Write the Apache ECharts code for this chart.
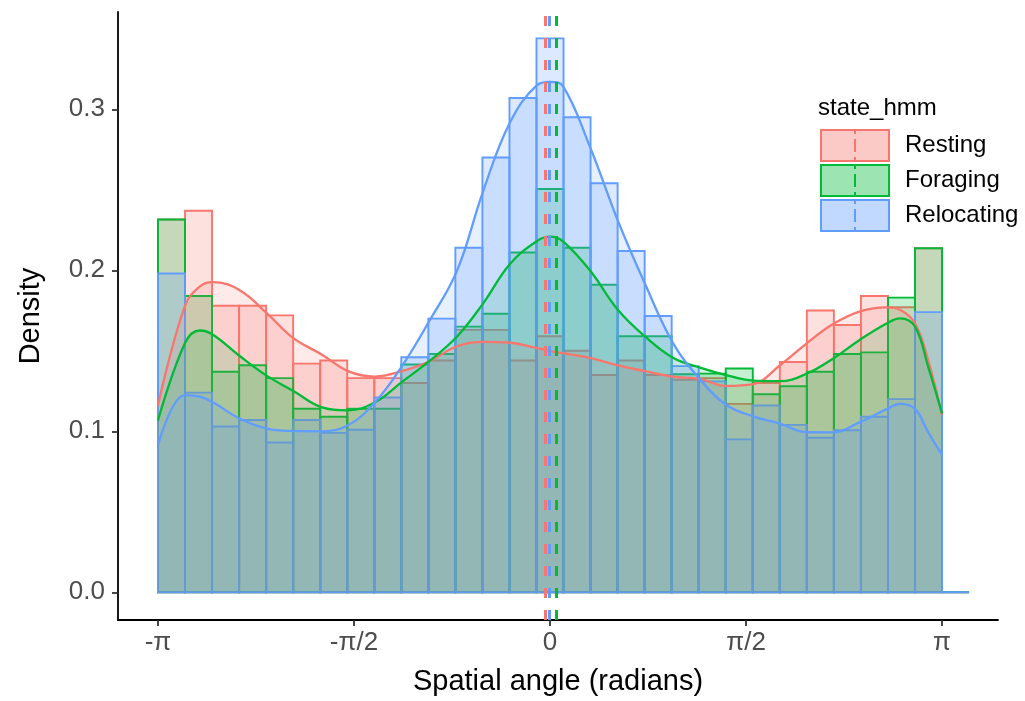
<!DOCTYPE html>
<html>
<head>
<meta charset="utf-8">
<script src="https://cdn.jsdelivr.net/npm/echarts@6/dist/echarts.min.js"></script>
<style>
html,body{margin:0;padding:0;background:#fff;}
#chart{width:1025px;height:701px;}
</style>
</head>
<body>
<div id="chart"></div>
<script>
// ---- data ----
const states = ['Resting', 'Foraging', 'Relocating'];
const stateColors = ['#F8766D', '#00BA38', '#619CFF'];
const nBins = 30;                 // 29 bins over [-pi, pi] plus one empty bin
const binStart = -Math.PI;
const binWidth = 2 * Math.PI / 29;

const restingHist = [0.2315, 0.237, 0.178, 0.178, 0.172, 0.142, 0.144, 0.133, 0.133, 0.130,
  0.144, 0.163, 0.163, 0.144, 0.159, 0.150, 0.135, 0.144, 0.135, 0.132,
  0.133, 0.117, 0.130, 0.143, 0.175, 0.166, 0.184, 0.177, 0.2137, 0];
const foragingHist = [0.2315, 0.184, 0.137, 0.141, 0.133, 0.114, 0.109, 0.114, 0.114, 0.1415,
  0.148, 0.165, 0.173, 0.211, 0.2505, 0.214, 0.191, 0.159, 0.159, 0.1354,
  0.1358, 0.139, 0.123, 0.128, 0.137, 0.148, 0.149, 0.183, 0.2137, 0];
const relocatingHist = [0.198, 0.124, 0.103, 0.107, 0.093, 0.107, 0.099, 0.101, 0.121, 0.146,
  0.170, 0.214, 0.270, 0.307, 0.344, 0.295, 0.254, 0.212, 0.1716, 0.1405,
  0.131, 0.095, 0.116, 0.104, 0.096, 0.1006, 0.109, 0.120, 0.174, 0];

const densityX = [-3.1416, -2.925, -2.805, -2.701, -2.484, -2.268, -2.060, -1.827, -1.619, -1.402,
  -1.186, -0.978, -0.745, -0.537, -0.321, -0.104, 0, 0.104, 0.321, 0.545,
  0.761, 0.986, 1.202, 1.410, 1.627, 1.843, 2.060, 2.268, 2.484, 2.701,
  2.805, 2.925, 3.029, 3.1416];
const restingDensity = [0.116, 0.178, 0.190, 0.1926, 0.1875, 0.1732, 0.158, 0.1476, 0.1374, 0.134,
  0.1374, 0.143, 0.1528, 0.1555, 0.155, 0.1517, 0.150, 0.1485, 0.1456, 0.1409,
  0.1374, 0.134, 0.1325, 0.1282, 0.1293, 0.1410, 0.1548, 0.1666, 0.1745, 0.1770,
  0.1755, 0.1671, 0.1446, 0.110];
const foragingDensity = [0.1067, 0.1548, 0.1626, 0.160, 0.1466, 0.1344, 0.1252, 0.1149, 0.113, 0.118,
  0.1307, 0.1429, 0.1589, 0.1793, 0.2039, 0.2182, 0.2209, 0.2180, 0.1998, 0.1753,
  0.1589, 0.1456, 0.1395, 0.1349, 0.1315, 0.1311, 0.1359, 0.1451, 0.1569, 0.1671,
  0.1701, 0.165, 0.1405, 0.111];
const relocatingDensity = [0.0914, 0.1225, 0.1215, 0.118, 0.1078, 0.1017, 0.1002, 0.100, 0.1037, 0.118,
  0.1405, 0.1671, 0.1998, 0.2489, 0.2918, 0.3150, 0.317, 0.3143, 0.2765, 0.2305,
  0.1916, 0.1548, 0.1323, 0.1165, 0.1093, 0.1047, 0.0994, 0.0993, 0.1057, 0.1139,
  0.117, 0.1139, 0.0996, 0.0853];

const stateMeans = [-0.040, 0.046, -0.008];

const xTickValues = [-Math.PI, -Math.PI / 2, 0, Math.PI / 2, Math.PI];
const xTickLabels = ['-π', '-π/2', '0', 'π/2', 'π'];
const yTickValues = [0, 0.1, 0.2, 0.3];
const yTickLabels = ['0.0', '0.1', '0.2', '0.3'];

// ---- build ----
const hists = [restingHist, foragingHist, relocatingHist];
const dens = [restingDensity, foragingDensity, relocatingDensity];
const FONT = '"Liberation Sans", Arial, sans-serif';

function rgba(hex, a) {
  const r = parseInt(hex.slice(1, 3), 16), g = parseInt(hex.slice(3, 5), 16), b = parseInt(hex.slice(5, 7), 16);
  return `rgba(${r},${g},${b},${a})`;
}
const ALPHA = 0.22;

const series = [];
states.forEach((name, s) => {
  const data = hists[s].map((v, i) => [binStart + i * binWidth, binStart + (i + 1) * binWidth, v]);
  series.push({
    type: 'custom', name, z: 2, silent: true,
    itemStyle: { color: rgba(stateColors[s], 0.4) },
    encode: { x: [0, 1], y: 2 },
    data,
    renderItem(params, api) {
      const p0 = api.coord([api.value(0), api.value(2)]);
      const p1 = api.coord([api.value(1), 0]);
      return {
        type: 'rect',
        shape: { x: p0[0], y: p0[1], width: p1[0] - p0[0], height: p1[1] - p0[1] },
        style: { fill: rgba(stateColors[s], ALPHA), stroke: stateColors[s], lineWidth: 1.9 }
      };
    }
  });
});
states.forEach((name, s) => {
  series.push({
    type: 'line', name, z: 3, silent: true, smooth: 0.4, showSymbol: false,
    data: densityX.map((x, i) => [x, dens[s][i]]),
    lineStyle: { color: stateColors[s], width: 2.3 },
    itemStyle: { color: stateColors[s] },
    areaStyle: { color: rgba(stateColors[s], ALPHA), origin: 0 },
    markLine: {
      silent: true, symbol: 'none', z: 5, animation: false,
      label: { show: false },
      lineStyle: { color: stateColors[s], type: [10, 12], width: 3 },
      data: [{ xAxis: stateMeans[s] }]
    }
  });
});

const iconPath = 'path://M0 0H68V31H0Z M34 0V4 M34 9V22 M34 27V31';
const chart = echarts.init(document.getElementById('chart'), null, { renderer: 'canvas' });
chart.setOption({
  animation: false,
  backgroundColor: '#ffffff',
  textStyle: { fontFamily: FONT },
  title: {
    text: 'state_hmm', left: 813, top: 91,
    textStyle: { fontFamily: FONT, fontSize: 24, fontWeight: 'normal', color: '#000' }
  },
  legend: {
    orient: 'vertical', left: 815, top: 124,
    itemWidth: 68, itemHeight: 31, itemGap: 2,
    selectedMode: false,
    textStyle: { fontFamily: FONT, fontSize: 24, color: '#000', padding: [0, 0, 0, 11] },
    data: states.map((n, s) => ({
      name: n, icon: iconPath,
      itemStyle: { color: rgba(stateColors[s], 0.39), borderColor: stateColors[s], borderWidth: 2 }
    }))
  },
  grid: { left: 118, right: 27, top: 12, bottom: 74, containLabel: false },
  xAxis: {
    type: 'value', min: -3.462, max: 3.59,
    name: 'Spatial angle (radians)', nameLocation: 'middle', nameGap: 47,
    nameTextStyle: { fontFamily: FONT, fontSize: 29, color: '#000' },
    splitLine: { show: false },
    axisLine: { onZero: false, lineStyle: { color: '#000', width: 1.8 } },
    axisTick: { customValues: xTickValues, length: 6, lineStyle: { color: '#333', width: 1.8 } },
    axisLabel: {
      customValues: xTickValues, margin: 10, fontSize: 26, color: '#4D4D4D', fontFamily: FONT,
      formatter: (v) => { const i = xTickValues.findIndex(t => Math.abs(t - v) < 1e-6); return i >= 0 ? xTickLabels[i] : ''; }
    }
  },
  yAxis: {
    type: 'value', min: -0.0172, max: 0.3604,
    name: 'Density', nameLocation: 'middle', nameGap: 73, nameRotate: 90,
    nameTextStyle: { fontFamily: FONT, fontSize: 29, color: '#000' },
    splitLine: { show: false },
    axisLine: { onZero: false, lineStyle: { color: '#000', width: 1.8 } },
    axisTick: { customValues: yTickValues, length: 6, lineStyle: { color: '#333', width: 1.8 } },
    axisLabel: {
      customValues: yTickValues, margin: 13, fontSize: 26, color: '#4D4D4D', fontFamily: FONT,
      formatter: (v) => { const i = yTickValues.findIndex(t => Math.abs(t - v) < 1e-6); return i >= 0 ? yTickLabels[i] : ''; }
    }
  },
  series
});
</script>
</body>
</html>
